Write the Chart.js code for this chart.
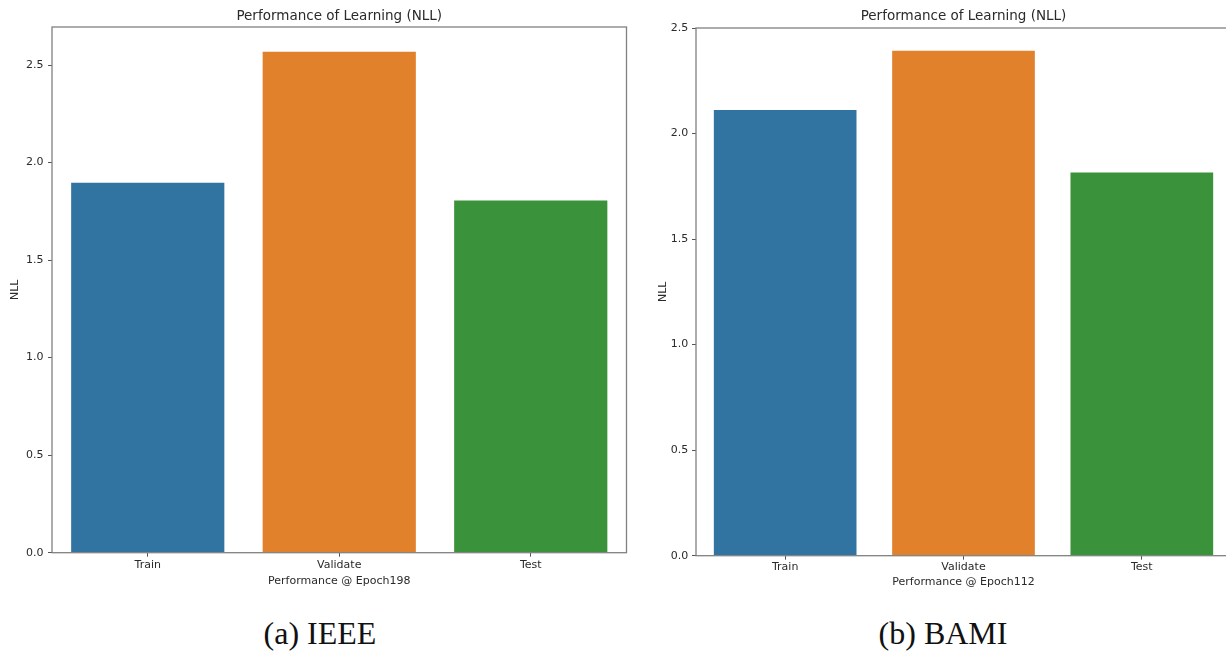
<!DOCTYPE html>
<html>
<head>
<meta charset="utf-8">
<script src="https://cdn.jsdelivr.net/npm/chart.js@4.4.0/dist/chart.umd.min.js"></script>
<style>
  body { margin: 0; background: #fff; overflow: hidden; width: 1226px; height: 652px; position: relative; }
  .box { position: absolute; top: 0; }
  .cap { position: absolute; top: 615px; width: 300px; text-align: center; font-family: "Liberation Serif", serif; font-size: 32px; line-height: 36px; color: #111; }
</style>
</head>
<body>
<div class="box" style="left:0px;width:640px;height:600px"><canvas id="chartA" width="640" height="600"></canvas></div>
<div class="box" style="left:640px;width:600px;height:600px"><canvas id="chartB" width="600" height="600"></canvas></div>
<div class="cap" style="left:170px">(a) IEEE</div>
<div class="cap" style="left:793px">(b) BAMI</div>
<script>
// data
var categories = ['Train', 'Validate', 'Test'];
var nllIEEE = [1.896, 2.568, 1.805];
var nllBAMI = [2.112, 2.392, 1.816];
var barColors = ['#3274a1', '#e1812c', '#3a923a'];
var yTicksIEEE = [0.0, 0.5, 1.0, 1.5, 2.0, 2.5];
var yTicksBAMI = [0.0, 0.5, 1.0, 1.5, 2.0, 2.5];
var yMaxIEEE = 2.695;
var yMaxBAMI = 2.5;

var textColor = '#2a2a2a';
var spineColor = '#808080';
var fontFam = '"DejaVu Sans", sans-serif';

// matplotlib style box around the axes
var spines = {
    id: 'spines',
    afterDraw: function(chart) {
        var a = chart.chartArea, ctx = chart.ctx;
        ctx.save();
        ctx.strokeStyle = spineColor;
        ctx.lineWidth = 1.3;
        ctx.strokeRect(a.left, a.top, a.right - a.left, a.bottom - a.top);
        ctx.restore();
    }
};

function makeChart(id, values, ticks, yMax, opt) {
    var ctx = document.getElementById(id).getContext('2d');
    return new Chart(ctx, {
        type: 'bar',
        data: {
            labels: categories,
            datasets: [{
                label: 'NLL',
                data: values,
                backgroundColor: barColors,
                borderWidth: 0,
                barPercentage: 0.8,
                categoryPercentage: 1.0
            }]
        },
        plugins: [spines],
        options: {
            responsive: false,
            animation: false,
            layout: { padding: { left: 0, top: 0, right: opt.padRight, bottom: 0 } },
            plugins: {
                legend: { display: false },
                tooltip: { enabled: false },
                title: {
                    display: true,
                    fullSize: false,
                    text: 'Performance of Learning (NLL)',
                    color: textColor,
                    font: { family: fontFam, size: 13.5, weight: 'normal', lineHeight: 1.2 },
                    padding: { top: 7.9, bottom: opt.titleBottom }
                }
            },
            scales: {
                x: {
                    afterFit: function(s) { s.height = opt.xHeight; },
                    border: { display: false },
                    grid: { offset: false, drawOnChartArea: false, drawTicks: true, tickLength: 4, color: '#555' },
                    ticks: { color: textColor, padding: opt.xTickPad, font: { family: fontFam, size: 11 } },
                    title: {
                        display: true,
                        text: opt.xTitle,
                        color: textColor,
                        font: { family: fontFam, size: 11, lineHeight: 1.2 },
                        padding: { top: 0, bottom: opt.xTitlePad }
                    }
                },
                y: {
                    min: 0,
                    max: yMax,
                    afterFit: function(s) { s.width = opt.yWidth; },
                    afterBuildTicks: function(s) {
                        s.ticks = ticks.map(function(v) { return { value: v }; });
                    },
                    border: { display: false },
                    grid: { drawOnChartArea: false, drawTicks: true, tickLength: 4, color: '#555' },
                    ticks: {
                        color: textColor,
                        padding: opt.yTickPad,
                        font: { family: fontFam, size: 11 },
                        callback: function(v) { return Number(v).toFixed(1); }
                    },
                    title: {
                        display: true,
                        text: 'NLL',
                        color: textColor,
                        font: { family: fontFam, size: 11, lineHeight: 1.2 },
                        padding: { top: opt.yTitlePad, bottom: 0 }
                    }
                }
            }
        }
    });
}

makeChart('chartA', nllIEEE, yTicksIEEE, yMaxIEEE, {
    padRight: 13.5, titleBottom: 2.9, xHeight: 47.3, xTickPad: 1.7, xTitlePad: 12.1,
    yWidth: 52, yTickPad: 4.5, yTitlePad: 8.4, xTitle: 'Performance @ Epoch198'
});
makeChart('chartB', nllBAMI, yTicksBAMI, yMaxBAMI, {
    padRight: 9, titleBottom: 3.9, xHeight: 44.3, xTickPad: 0.5, xTitlePad: 11.4,
    yWidth: 56, yTickPad: 3.7, yTitlePad: 16.5, xTitle: 'Performance @ Epoch112'
});
</script>
</body>
</html>
